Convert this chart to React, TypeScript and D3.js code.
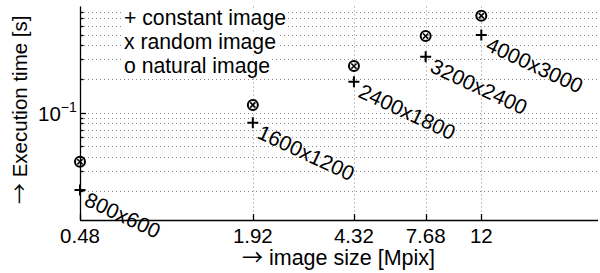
import React, { useEffect, useRef } from "react";
import * as d3 from "d3";

// image sizes in Mpix, one group of markers per resolution
const imageSizes = [0.48, 1.92, 4.32, 7.68, 12];
const resolutions = ["800x600", "1600x1200", "2400x1800", "3200x2400", "4000x3000"];
const xTickLabels = ["0.48", "1.92", "4.32", "7.68", "12"];

// execution times [s]
const constantTimes = [0.0202, 0.081, 0.189, 0.317, 0.495];
const randomTimes = [0.0362, 0.117, 0.261, 0.485, 0.738];
const naturalTimes = [0.0362, 0.117, 0.261, 0.485, 0.738];

// log grid on the y axis
const yGridValues = [
  0.02, 0.03, 0.04, 0.05, 0.06, 0.07, 0.08, 0.09,
  0.1, 0.2, 0.3, 0.4, 0.5, 0.6, 0.7, 0.8,
];
const yMajorTicks = [0.1];

const legendLines = ["+ constant image", "x random image", "o natural image"];
const xTitle = "image size [Mpix]";
const yTitle = "Execution time [s]";

const FONT = "'Liberation Sans', Arial, Helvetica, sans-serif";
const ARROW_FONT = "'Noto Sans CJK JP', 'DejaVu Sans', sans-serif";

type Sel = d3.Selection<SVGSVGElement, unknown, null, undefined>;

// "→ title": a thin full-width arrow like in the original
function arrowTitle(svg: Sel, x0: number, y0: number, angle: number, text: string, size: number, arrowW: number) {
  const g = svg.append("g").attr("transform", `translate(${x0},${y0}) rotate(${angle})`);
  const a = g.append("text").attr("font-family", ARROW_FONT).attr("font-size", size).text("\u2192");
  const w = (a.node() as SVGTextElement).getComputedTextLength() || arrowW;
  a.attr("transform", `scale(${arrowW / w},1)`);
  g.append("text")
    .attr("x", arrowW + size * 0.278)
    .attr("font-family", FONT)
    .attr("font-size", size)
    .text(text);
}

export default function App() {
  const svgRef = useRef<SVGSVGElement | null>(null);

  useEffect(() => {
    const width = 600;
    const height = 273;
    const left = 80;
    const right = 598;
    const top = 6.5;
    const bottom = 220;

    const x = d3.scaleLog().domain([0.48, 30.6]).range([left, right]);
    const y = d3.scaleLog().domain([0.0109, 0.893]).range([bottom, top]);

    const svg = d3.select(svgRef.current!).attr("width", width).attr("height", height) as Sel;
    svg.selectAll("*").remove();

    svg.append("rect").attr("width", width).attr("height", height).attr("fill", "white");

    // dotted grid
    const grid = svg.append("g").attr("stroke", "#888").attr("stroke-width", 1).attr("stroke-dasharray", "1,3");
    grid
      .selectAll("line.h")
      .data(yGridValues)
      .join("line")
      .attr("class", "h")
      .attr("x1", left)
      .attr("x2", right)
      .attr("y1", (d) => Math.round(y(d)) + 0.5)
      .attr("y2", (d) => Math.round(y(d)) + 0.5);
    grid
      .selectAll("line.v")
      .data(imageSizes)
      .join("line")
      .attr("class", "v")
      .attr("x1", (d) => Math.round(x(d)) + 0.5)
      .attr("x2", (d) => Math.round(x(d)) + 0.5)
      .attr("y1", top)
      .attr("y2", bottom);

    // axes lines and inward ticks
    const axes = svg.append("g").attr("stroke", "black").attr("stroke-width", 1.3);
    axes.append("line").attr("x1", left + 0.5).attr("x2", left + 0.5).attr("y1", top).attr("y2", bottom + 0.5);
    axes.append("line").attr("x1", left).attr("x2", right).attr("y1", bottom + 0.5).attr("y2", bottom + 0.5);
    axes
      .selectAll("line.yt")
      .data(yGridValues)
      .join("line")
      .attr("class", "yt")
      .attr("x1", left)
      .attr("x2", (d) => left + (yMajorTicks.includes(d) ? 6 : 3.5))
      .attr("y1", (d) => Math.round(y(d)) + 0.5)
      .attr("y2", (d) => Math.round(y(d)) + 0.5);
    axes
      .selectAll("line.xt")
      .data(imageSizes)
      .join("line")
      .attr("class", "xt")
      .attr("x1", (d) => Math.round(x(d)) + 0.5)
      .attr("x2", (d) => Math.round(x(d)) + 0.5)
      .attr("y1", bottom)
      .attr("y2", bottom - 6);

    // tick labels
    svg
      .append("g")
      .selectAll("text")
      .data(imageSizes)
      .join("text")
      .attr("x", (d) => x(d))
      .attr("y", 243)
      .attr("text-anchor", "middle")
      .attr("font-family", FONT)
      .attr("font-size", 20.5)
      .text((d, i) => xTickLabels[i]);

    yMajorTicks.forEach((v) => {
      const t = svg
        .append("text")
        .attr("x", left - 42)
        .attr("y", y(v) + 8.5)
        .attr("font-family", FONT)
        .attr("font-size", 20.5)
        .text("10");
      t.append("tspan").attr("dy", -9).attr("font-size", 14).text("\u22121");
    });

    // axis titles
    arrowTitle(svg, 242, 265, 0, xTitle, 21.5, 21);
    arrowTitle(svg, 27, 204, -90, yTitle, 20.5, 21);

    // legend-like text lines with white background
    legendLines.forEach((line, i) => {
      const g = svg.append("g");
      const bg = g.append("rect").attr("fill", "white");
      const t = g
        .append("text")
        .attr("x", 124)
        .attr("y", 25 + i * 23.8)
        .attr("font-family", FONT)
        .attr("font-size", 21.2)
        .text(line);
      const bb = (t.node() as SVGTextElement).getBBox();
      bg.attr("x", bb.x - 2).attr("y", bb.y + 2).attr("width", bb.width + 4).attr("height", bb.height - 3);
    });

    // markers
    const marks = svg.append("g").attr("stroke", "black").attr("fill", "none").attr("stroke-width", 2);
    marks
      .selectAll("path.plus")
      .data(constantTimes)
      .join("path")
      .attr("class", "plus")
      .attr("d", (d, i) => {
        const cx = x(imageSizes[i]);
        const cy = y(d);
        return `M${cx - 5.5},${cy}H${cx + 5.5}M${cx},${cy - 5.5}V${cy + 5.5}`;
      });
    marks
      .selectAll("path.cross")
      .data(randomTimes)
      .join("path")
      .attr("class", "cross")
      .attr("stroke-width", 1.6)
      .attr("d", (d, i) => {
        const cx = x(imageSizes[i]);
        const cy = y(d);
        const r = 2.6;
        return `M${cx - r},${cy - r}L${cx + r},${cy + r}M${cx - r},${cy + r}L${cx + r},${cy - r}`;
      });
    marks
      .selectAll("circle")
      .data(naturalTimes)
      .join("circle")
      .attr("cx", (d, i) => x(imageSizes[i]))
      .attr("cy", (d) => y(d))
      .attr("r", 5);

    // resolution labels
    svg
      .append("g")
      .selectAll("text")
      .data(resolutions)
      .join("text")
      .attr("transform", (d, i) => `translate(${x(imageSizes[i])},${y(constantTimes[i])}) rotate(25)`)
      .attr("x", 9)
      .attr("y", 12)
      .attr("font-family", FONT)
      .attr("font-size", 21)
      .text((d) => d);
  }, []);

  return <svg ref={svgRef} style={{ position: "absolute", left: 0, top: 0, display: "block" }}></svg>;
}
